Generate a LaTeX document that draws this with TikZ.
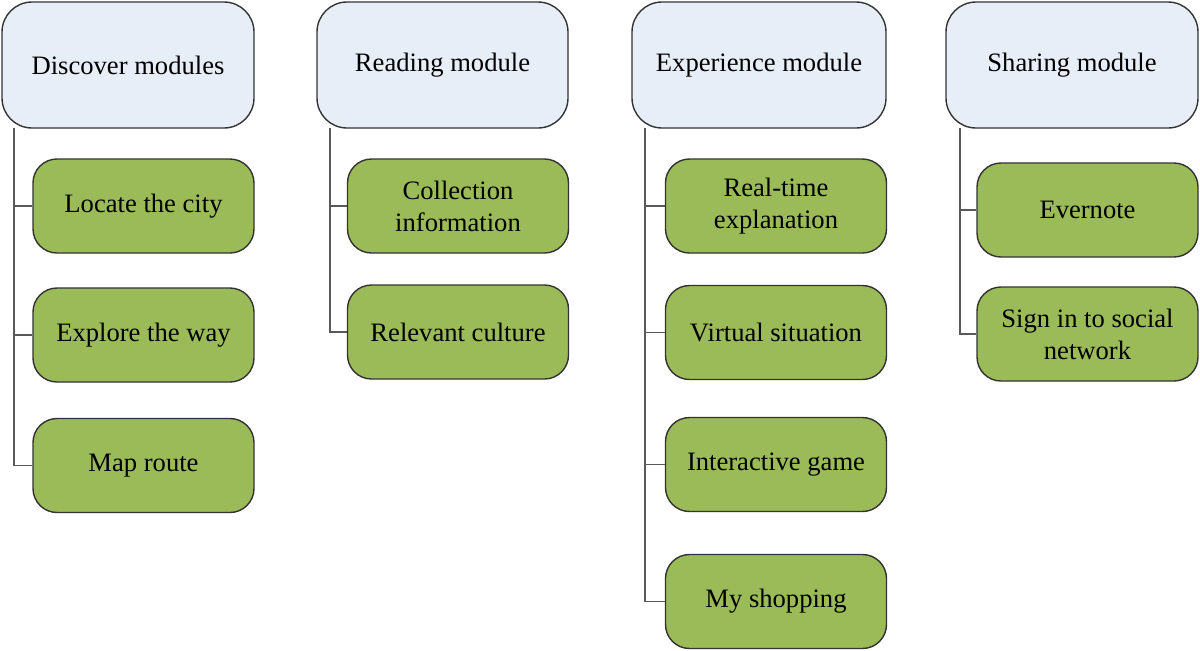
\documentclass[tikz,border=0pt]{standalone}
\usepackage{fontspec}
\setmainfont{Liberation Serif}
\definecolor{hdrfill}{HTML}{E8EEF8}
\definecolor{leaffill}{HTML}{9BBB59}
\definecolor{edge}{HTML}{333333}
\definecolor{trunk}{HTML}{595959}
\begin{document}
\begin{tikzpicture}[x=0.5pt,y=-0.5pt,
  hdr/.style={draw=edge,line width=0.7pt,fill=hdrfill,rounded corners=15pt,
    minimum height=63pt,inner sep=0pt,align=center,font=\fontsize{13.3}{16}\selectfont},
  leaf/.style={draw=edge,line width=0.7pt,fill=leaffill,rounded corners=12pt,
    minimum width=110.5pt,minimum height=47pt,inner sep=0pt,align=center,font=\fontsize{13.3}{16}\selectfont},
  conn/.style={draw=trunk,line width=0.9pt}]
\useasboundingbox (0,0) rectangle (1200,650);
% headers
\node[hdr,minimum width=126pt] (h1) at (128,65) {Discover modules};
\node[hdr,minimum width=125.5pt] (h2) at (442.5,65) {Reading module};
\node[hdr,minimum width=127pt] (h3) at (759,65) {Experience module};
\node[hdr,minimum width=126pt] (h4) at (1072,65) {Sharing module};
% Discover children
\node[leaf] (c11) at (143.5,206) {Locate the city};
\node[leaf] (c12) at (143.5,335) {Explore the way};
\node[leaf] (c13) at (143.5,465.5) {Map route};
% Reading children
\node[leaf] (c21) at (458,206) {Collection\\information};
\node[leaf] (c22) at (458,332) {Relevant culture};
% Experience children
\node[leaf] (c31) at (776,206) {Real-time\\explanation};
\node[leaf] (c32) at (776,332.5) {Virtual situation};
\node[leaf] (c33) at (776,464.5) {Interactive game};
\node[leaf] (c34) at (776,601.5) {My shopping};
% Sharing children
\node[leaf] (c41) at (1087.5,210) {Evernote};
\node[leaf] (c42) at (1087.5,334) {Sign in to social\\network};
% trunk start points
\coordinate (t1) at (14,128);
\coordinate (t2) at (330,128);
\coordinate (t3) at (645,128);
\coordinate (t4) at (960,128);
% connectors
\draw[conn] (t1) |- (c13.west);
\draw[conn] (t1 |- c11.west) -- (c11.west);
\draw[conn] (t1 |- c12.west) -- (c12.west);
\draw[conn] (t2) |- (c22.west);
\draw[conn] (t2 |- c21.west) -- (c21.west);
\draw[conn] (t3) |- (c34.west);
\draw[conn] (t3 |- c31.west) -- (c31.west);
\draw[conn] (t3 |- c32.west) -- (c32.west);
\draw[conn] (t3 |- c33.west) -- (c33.west);
\draw[conn] (t4) |- (c42.west);
\draw[conn] (t4 |- c41.west) -- (c41.west);
\end{tikzpicture}
\end{document}
